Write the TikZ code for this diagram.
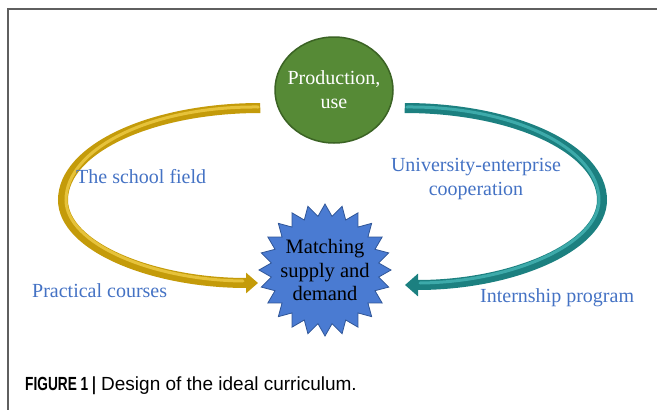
\documentclass[tikz,border=0pt]{standalone}
\usepackage{fontspec}
\setmainfont{Liberation Serif}
\newfontfamily\capfont{Liberation Sans}
\newfontfamily\capbold[FakeStretch=0.72]{Liberation Sans}
\usetikzlibrary{arrows.meta, positioning, shapes.geometric}
\definecolor{frameGray}{HTML}{5F5F5F}
\definecolor{labelBlue}{HTML}{4472C4}
\definecolor{prodGreen}{HTML}{568A36}
\definecolor{prodDark}{HTML}{3B6324}
\definecolor{starBlue}{HTML}{4A7BD2}
\definecolor{starDark}{HTML}{2F5597}
\definecolor{goldMain}{HTML}{C49B0A}
\definecolor{goldLight}{HTML}{E6C23A}
\definecolor{tealMain}{HTML}{1C8080}
\definecolor{tealLight}{HTML}{3DAAAA}
\tikzset{
  lbl/.style={text=labelBlue, font=\fontsize{20}{24}\selectfont, inner sep=0pt},
  flowGold/.style={-{Triangle[length=12pt, width=20pt]}, goldMain, line width=10pt},
  flowTeal/.style={-{Triangle[length=13pt, width=22pt]}, tealMain, line width=10pt},
  sheen/.style={line width=3pt, line cap=round},
  prodcirc/.style={ellipse, fill=prodGreen, draw=prodDark, line width=1.5pt,
                   minimum width=118pt, minimum height=106pt, inner sep=-6pt,
                   text=white, align=center, font=\fontsize{20}{24}\selectfont},
  matchstar/.style={star, star points=24, star point ratio=1.22, fill=starBlue,
                    draw=starDark, line width=0.8pt, minimum size=132pt, inner sep=0pt},
}

\begin{document}
\begin{tikzpicture}[x=1pt, y=-1pt]
  \useasboundingbox (0,0) rectangle (657,410);
  % panel frame, open to the right and bottom
  \draw[frameGray, line width=1.2pt] (8,410) -- (8,9) -- (657,9);

  \node[prodcirc] (prod) at (334,90) {Production,\\use};
  \node[matchstar] (match) at (325,270) {};
  \node[align=center, inner sep=0pt, font=\fontsize{20.5}{23.5}\selectfont]
        (matchtxt) at (325,270) {Matching\\supply and\\demand};

  % left loop: school side
  \draw[flowGold] ([shift={(-14pt,-18pt)}]prod.west)
     .. controls (151,108) and (63,149) .. (63,200)
     .. controls (63,246) and (151,283) .. ([shift={(-67pt,-13pt)}]match.center);
  \draw[sheen, goldLight] ([shift={(-16pt,-17pt)}]prod.west)
     .. controls (151,106) and (66,149) .. (66,200)
     .. controls (66,243) and (151,280) .. ([shift={(-82pt,-11pt)}]match.center);
  % right loop: enterprise side
  \draw[flowTeal] ([shift={(11pt,-18pt)}]prod.east)
     .. controls (514,108) and (602,149) .. (602,200)
     .. controls (602,246) and (514,285) .. ([shift={(80pt,-15pt)}]match.center);
  \draw[sheen, tealLight] ([shift={(13pt,-17pt)}]prod.east)
     .. controls (514,106) and (599,149) .. (599,200)
     .. controls (599,243) and (514,282) .. ([shift={(95pt,-13pt)}]match.center);

  \node[lbl, anchor=base west] (school) at (76,183) {The school field};
  \node[lbl, anchor=base west] (courses) at (32,297) {Practical courses};
  \node[lbl, align=center] (coop) at (476,179) {University-enterprise\\cooperation};
  \node[lbl, anchor=base west] (intern) at (480,302) {Internship program};

  \node[anchor=base west, inner sep=0pt, font=\capfont\fontsize{19}{22}\selectfont]
        (caption) at (25,390) {{\capbold\bfseries FIGURE 1 |} Design of the ideal curriculum.};
\end{tikzpicture}
\end{document}
